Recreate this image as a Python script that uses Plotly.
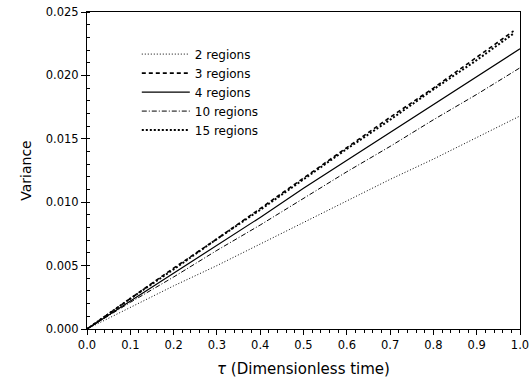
import plotly.graph_objects as go

tau = [0.0, 0.1, 0.2, 0.3, 0.4, 0.5, 0.6, 0.7, 0.8, 0.9, 1.0]
tau_short = [0.0, 0.1, 0.2, 0.3, 0.4, 0.5, 0.6, 0.7, 0.8, 0.9, 0.985]

var_2 = [0, 0.0017, 0.0034, 0.0050, 0.0067, 0.0084, 0.0101, 0.0118, 0.0134, 0.0151, 0.0168]
var_3 = [0, 0.0024, 0.0048, 0.0071, 0.0095, 0.0119, 0.0143, 0.0167, 0.0190, 0.0214, 0.0235]
var_4 = [0, 0.0022, 0.0044, 0.0066, 0.0088, 0.0111, 0.0133, 0.0155, 0.0177, 0.0199, 0.0221]
var_10 = [0, 0.0021, 0.0041, 0.0062, 0.0082, 0.0103, 0.0124, 0.0144, 0.0165, 0.0185, 0.0206]
var_15 = [0, 0.0024, 0.0047, 0.0071, 0.0094, 0.0118, 0.0142, 0.0165, 0.0189, 0.0212, 0.0233]

x_ticks = [0.0, 0.1, 0.2, 0.3, 0.4, 0.5, 0.6, 0.7, 0.8, 0.9, 1.0]
x_labels = ["0.0", "0.1", "0.2", "0.3", "0.4", "0.5", "0.6", "0.7", "0.8", "0.9", "1.0"]
y_ticks = [0.000, 0.005, 0.010, 0.015, 0.020, 0.025]
y_labels = ["0.000", "0.005", "0.010", "0.015", "0.020", "0.025"]

series = [
    ("2 regions", tau, var_2, dict(dash="1px,2px", width=1)),
    ("3 regions", tau_short, var_3, dict(dash="4px,3px", width=1.6)),
    ("4 regions", tau, var_4, dict(dash="solid", width=1.2)),
    ("10 regions", tau, var_10, dict(dash="5px,2px,1px,2px", width=1)),
    ("15 regions", tau_short, var_15, dict(dash="2px,2px", width=2)),
]

fig = go.Figure()
for name, x, y, ln in series:
    fig.add_trace(go.Scatter(x=x, y=y, mode="lines", name=name,
                             line=dict(color="black", **ln)))

FONT = "DejaVu Sans, Liberation Sans, Arial"
fig.update_layout(
    width=530, height=386,
    margin=dict(l=87, r=10, t=12, b=57),
    paper_bgcolor="white", plot_bgcolor="white",
    font=dict(family=FONT, size=11.5, color="black"),
    showlegend=True,
    legend=dict(x=0.115, y=0.913, xanchor="left", yanchor="top",
                bgcolor="rgba(0,0,0,0)", font=dict(family=FONT, size=12),
                tracegroupgap=0, itemwidth=48),
    xaxis=dict(range=[0, 1.0], tickvals=x_ticks, ticktext=x_labels,
               ticks="outside", ticklen=5, tickcolor="black",
               minor=dict(dtick=0.02, ticks="outside", ticklen=3, tickcolor="black"),
               showline=True, linecolor="black", linewidth=1, mirror=True,
               showgrid=False, zeroline=False, automargin=False,
               title=dict(text="<i>τ</i> (Dimensionless time)",
                          font=dict(family=FONT, size=15), standoff=12)),
    yaxis=dict(range=[0, 0.025], tickvals=y_ticks, ticktext=y_labels,
               ticks="outside", ticklen=5, tickcolor="black",
               minor=dict(dtick=0.001, ticks="inside", ticklen=3, tickcolor="black"),
               showline=True, linecolor="black", linewidth=1, mirror=True,
               showgrid=False, zeroline=False, automargin=False,
               title=dict(text="Variance", font=dict(family=FONT, size=14), standoff=10)),
)

fig.write_html("out.html", config={"displayModeBar": False},
               post_script="document.body.style.margin='0';")
